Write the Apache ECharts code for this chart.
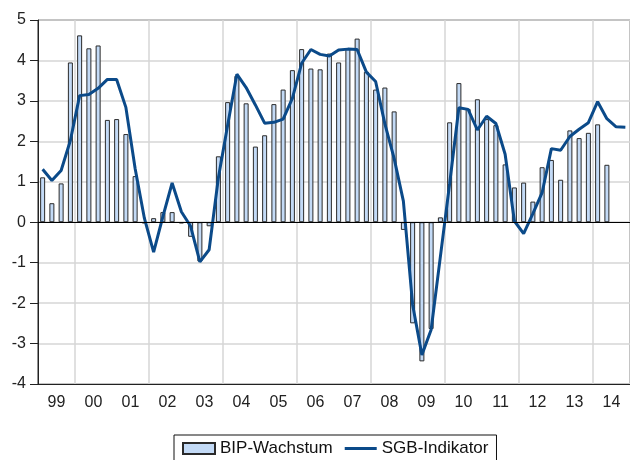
<!DOCTYPE html>
<html>
<head>
<meta charset="utf-8">
<script src="https://cdn.jsdelivr.net/npm/echarts@6/dist/echarts.min.js"></script>
<style>
  html, body { margin: 0; padding: 0; background: #fff; }
  #chart { width: 630px; height: 460px; }
</style>
</head>
<body>
<div id="chart"></div>
<script>
// quarterly data 1999Q1 - 2014Q4
var years = ["99", "00", "01", "02", "03", "04", "05", "06", "07", "08", "09", "10", "11", "12", "13", "14"];
var quarters = [];
for (var y = 1999; y <= 2014; y++) {
  for (var q = 1; q <= 4; q++) quarters.push(y + "Q" + q);
}

var bipWachstum = [
  1.11, 0.47, 0.96, 3.95, 4.62, 4.30, 4.37, 2.53,
  2.55, 2.18, 1.14, -0.03, 0.10, 0.25, 0.25, -0.03,
  -0.36, -0.97, -0.10, 1.63, 2.97, 3.62, 2.94, 1.87,
  2.15, 2.92, 3.28, 3.76, 4.28, 3.80, 3.78, 4.17,
  3.95, 4.30, 4.54, 3.72, 3.28, 3.33, 2.74, -0.19,
  -2.50, -3.44, -2.64, 0.12, 2.47, 3.44, 2.80, 3.04,
  2.55, 2.40, 1.43, 0.86, 0.98, 0.51, 1.36, 1.54,
  1.05, 2.27, 2.08, 2.21, 2.42, 1.42, null, null
];

var sgbIndikator = [
  1.31, 1.03, 1.28, 2.02, 3.13, 3.16, 3.31, 3.53,
  3.53, 2.84, 1.33, 0.10, -0.74, 0.14, 0.97, 0.26,
  -0.10, -0.98, -0.68, 1.10, 2.40, 3.66, 3.33, 2.90,
  2.45, 2.47, 2.55, 3.06, 3.93, 4.27, 4.15, 4.11,
  4.26, 4.28, 4.27, 3.71, 3.48, 2.43, 1.58, 0.52,
  -2.04, -3.28, -2.66, -0.85, 0.95, 2.83, 2.79, 2.28,
  2.62, 2.44, 1.68, 0.03, -0.28, 0.21, 0.73, 1.82,
  1.78, 2.12, 2.30, 2.46, 2.98, 2.56, 2.36, 2.35
];

var dom = document.getElementById("chart");
var myChart = echarts.init(dom, null, { renderer: "canvas" });

var font = "Liberation Sans";
var lineColor = "#0b4a89";

var option = {
  animation: false,
  textStyle: { fontFamily: font },
  grid: {
    left: 38,
    right: 0,
    top: 20,
    bottom: 76,
    show: true,
    borderColor: "#222",
    borderWidth: 1
  },
  legend: {
    left: 174,
    top: 435,
    padding: [5, 8, 12, 8],
    itemWidth: 32,
    itemHeight: 11,
    itemGap: 12,
    borderColor: "#111",
    borderWidth: 1,
    backgroundColor: "#fff",
    textStyle: { fontSize: 17, color: "#111", fontFamily: font },
    data: [
      { name: "BIP-Wachstum", icon: "rect" },
      { name: "SGB-Indikator", icon: "path://M0 0H32V3H0Z" }
    ]
  },
  xAxis: [
    {
      type: "category",
      data: quarters,
      boundaryGap: true,
      position: "bottom",
      axisLine: { onZero: false, lineStyle: { color: "#222", width: 1 } },
      axisTick: { interval: 0, length: 7, lineStyle: { color: "#222" } },
      axisLabel: { show: false },
      splitLine: { show: false }
    },
    {
      type: "category",
      data: years,
      boundaryGap: true,
      position: "bottom",
      axisLine: { show: false, onZero: false },
      axisTick: { show: false },
      axisLabel: { interval: 0, fontSize: 16, color: "#222", margin: 11 },
      splitLine: {
        show: true,
        interval: function (index) { return index % 2 === 1; },
        lineStyle: { color: "#d6d6d6", width: 1.5 }
      }
    }
  ],
  yAxis: {
    type: "value",
    min: -4,
    max: 5,
    interval: 1,
    axisLine: { show: true, lineStyle: { color: "#222", width: 1 } },
    axisTick: { show: true, length: 8, lineStyle: { color: "#222" } },
    axisLabel: { fontSize: 16, color: "#222", margin: 12 },
    splitLine: { show: true, lineStyle: { color: "#d6d6d6", width: 1.5 } }
  },
  series: [
    {
      name: "BIP-Wachstum",
      type: "bar",
      xAxisIndex: 0,
      data: bipWachstum,
      barWidth: 5,
      itemStyle: { color: "#c3daf6", borderColor: "#2a2a2a", borderWidth: 1 },
      markLine: {
        silent: true,
        symbol: "none",
        label: { show: false },
        lineStyle: { color: "#000", width: 1, type: "solid" },
        data: [{ yAxis: 0 }]
      }
    },
    {
      name: "SGB-Indikator",
      type: "line",
      xAxisIndex: 0,
      data: sgbIndikator,
      symbol: "none",
      lineStyle: { color: lineColor, width: 3 },
      itemStyle: { color: lineColor }
    }
  ]
};

if (option && typeof option === "object") {
  myChart.setOption(option);
}
</script>
</body>
</html>
